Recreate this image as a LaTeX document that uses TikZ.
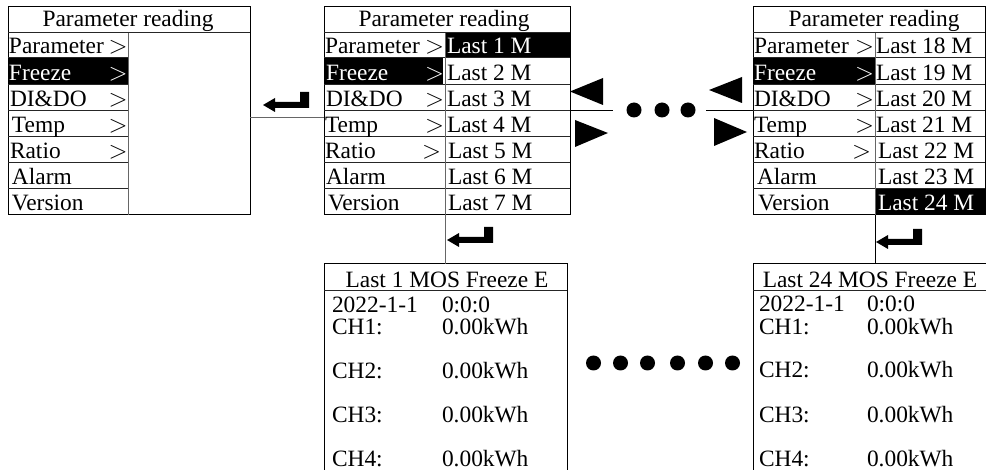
\documentclass[tikz,border=0pt]{standalone}
\usepackage{fontspec}
\setmainfont{Liberation Serif}
\newcommand{\fsz}{\fontsize{23.4pt}{26pt}\selectfont}
\newcommand{\gtsym}{\fontsize{25pt}{26pt}\selectfont$>$}
\begin{document}
\begin{tikzpicture}[x=1pt,y=-1pt,
  every node/.style={inner sep=0pt, outer sep=0pt},
  panelbox/.style={draw=black, line width=1pt, rectangle, anchor=north west},
  rowline/.style={draw=black!85, line width=1pt},
  divline/.style={draw=black!60, line width=1pt},
  conn/.style={draw=black!60, line width=1pt},
  txt/.style={anchor=base west, font=\fsz},
  wtxt/.style={txt, text=white},
  rtxt/.style={anchor=base east, font=\fsz},
  ttl/.style={anchor=base, font=\fsz},
  dotnode/.style={circle, fill=black, minimum size=15pt},
  retarrow/.pic={\fill[black] (0,0) -- (12,-7) -- (12,-3) -- (37,-3) -- (37,-13) -- (46,-13) -- (46,3) -- (12,3) -- (12,7) -- cycle;}
]
\useasboundingbox (0,0) rectangle (986,470);
\clip (0,0) rectangle (986,470);

% ---------- helper coordinates
\coordinate (y118) at (0,118);

% ---------- highlights
\fill[black] (8,58) rectangle (128,85);
\fill[black] (324,58) rectangle (443,85);
\fill[black] (445,33) rectangle (570,58);
\fill[black] (753,58) rectangle (875,85);
\fill[black] (875,189) rectangle (986,215);

% ---------- panel 1
\node[panelbox, minimum width=242pt, minimum height=208pt] (p1) at (8,7) {};
\draw[rowline] (8,33) -- (250,33);
\foreach \yy in {58,85,111,137,163,189} \draw[rowline] (8,\yy) -- (128,\yy);
\draw[divline] (128,33) -- (128,215);
\node[ttl] (p1t) at (128,27) {Parameter reading};
\foreach \t/\xx/\b/\c [count=\i] in {Parameter/9/54/black, Freeze/9/81/white, DI\&DO/10/107/black, Temp/12/133/black, Ratio/10/159/black, Alarm/12/185/black, Version/12/211/black}
  \node[txt, text=\c] (p1l\i) at (\xx,\b) {\t};
\foreach \b/\c [count=\i] in {54/black, 81/white, 107/black, 133/black, 159/black}
  \node[rtxt, text=\c] (p1g\i) at (127.5,\b) {\gtsym};

% ---------- panel 2
\node[panelbox, minimum width=246pt, minimum height=208pt] (p2) at (324,7) {};
\draw[rowline] (324,33) -- (570,33);
\foreach \yy in {58,85,111,137,163,189} \draw[rowline] (324,\yy) -- (570,\yy);
\draw[divline] (445,33) -- (445,215);
\node[ttl] (p2t) at (444,27) {Parameter reading};
\foreach \t/\xx/\b/\c [count=\i] in {Parameter/325/54/black, Freeze/326/81/white, DI\&DO/326/107/black, Temp/325/133/black, Ratio/325/159/black, Alarm/326/185/black, Version/328/211/black}
  \node[txt, text=\c] (p2l\i) at (\xx,\b) {\t};
\foreach \xx/\b/\c [count=\i] in {444/54/black, 444/81/white, 444/107/black, 444/133/black, 441/159/black}
  \node[rtxt, text=\c] (p2g\i) at (\xx,\b) {\gtsym};
\foreach \n/\xx/\b/\c [count=\i] in {1/447/54/white, 2/447/81/black, 3/447/107/black, 4/447/133/black, 5/448/159/black, 6/448/185/black, 7/448/211/black}
  \node[txt, text=\c] (p2r\i) at (\xx,\b) {Last \n\ M};

% ---------- panel 3
\node[panelbox, minimum width=232pt, minimum height=208pt] (p3) at (753,7) {};
\draw[rowline] (753,33) -- (985,33);
\foreach \yy in {58,85,111,137,163,189} \draw[rowline] (753,\yy) -- (985,\yy);
\draw[divline] (875,33) -- (875,215);
\node[ttl] (p3t) at (874,27) {Parameter reading};
\foreach \t/\xx/\b/\c [count=\i] in {Parameter/754/54/black, Freeze/754/81/white, DI\&DO/754/107/black, Temp/754/133/black, Ratio/754/159/black, Alarm/757/185/black, Version/758/211/black}
  \node[txt, text=\c] (p3l\i) at (\xx,\b) {\t};
\foreach \xx/\b/\c [count=\i] in {874/54/black, 874/81/white, 874/107/black, 874/133/black, 871/159/black}
  \node[rtxt, text=\c] (p3g\i) at (\xx,\b) {\gtsym};
\foreach \n/\xx/\b/\c [count=\i] in {18/876/54/black, 19/876/81/black, 20/876/107/black, 21/876/133/black, 22/878/159/black, 23/878/185/black, 24/878/211/white}
  \node[txt, text=\c] (p3r\i) at (\xx,\b) {Last \n\ M};

% ---------- panel 4
\node[panelbox, minimum width=243pt, minimum height=240pt] (p4) at (324,264) {};
\draw[rowline] (324,291) -- (567,291);
\node[ttl] (p4t) at (447,287.5) {Last 1 MOS Freeze E};
\node[txt] (p4d) at (332,312.5) {2022-1-1};
\node[txt] (p4h) at (442,312.5) {0:0:0};
\foreach \b [count=\i] in {335,379,423,466.5} {
  \node[txt] (p4c\i) at (332,\b) {CH\i:};
  \node[txt] (p4v\i) at (442,\b) {0.00kWh};
}

% ---------- panel 5
\node[panelbox, minimum width=260pt, minimum height=240pt] (p5) at (753,264) {};
\draw[rowline] (753,291) -- (986,291);
\node[ttl] (p5t) at (870,287.5) {Last 24 MOS Freeze E};
\node[txt] (p5d) at (759,312) {2022-1-1};
\node[txt] (p5h) at (867,312) {0:0:0};
\foreach \b [count=\i] in {335,377.5,422.5,466.5} {
  \node[txt] (p5c\i) at (759,\b) {CH\i:};
  \node[txt] (p5v\i) at (867,\b) {0.00kWh};
}

% ---------- connectors
\draw[conn] (p1.east |- y118) -- (p2.west |- y118);
\pic at (263,105) {retarrow};

\coordinate (dl) at (613,111);
\coordinate (dr) at (706,111);
\draw[draw=black, line width=1pt] (p2.east) -- (dl);
\draw[draw=black, line width=1pt] (dr) -- (p3.west);
\fill[black] (570,91.5) -- (603,78) -- (603,105) -- cycle;
\fill[black] (608,133) -- (575,120) -- (575,147) -- cycle;
\fill[black] (709,90) -- (742,77) -- (742,103) -- cycle;
\fill[black] (747,132) -- (714,118) -- (714,146) -- cycle;
\node[dotnode] (da1) at (634,110) {};
\node[dotnode] (da2) at (662,110) {};
\node[dotnode] (da3) at (688,110) {};

\coordinate (d2) at (445,215);
\draw[conn] (d2) -- (d2 |- p4.north);
\pic at (447,240) {retarrow};
\coordinate (d3) at (875,215);
\draw[draw=black, line width=1pt] (d3) -- (d3 |- p5.north);
\pic at (876,242) {retarrow};

\foreach \xx [count=\i] in {593.5,620.5,647.5,677.5,705.5,732.5}
  \node[dotnode] (db\i) at (\xx,363) {};
\end{tikzpicture}
\end{document}
